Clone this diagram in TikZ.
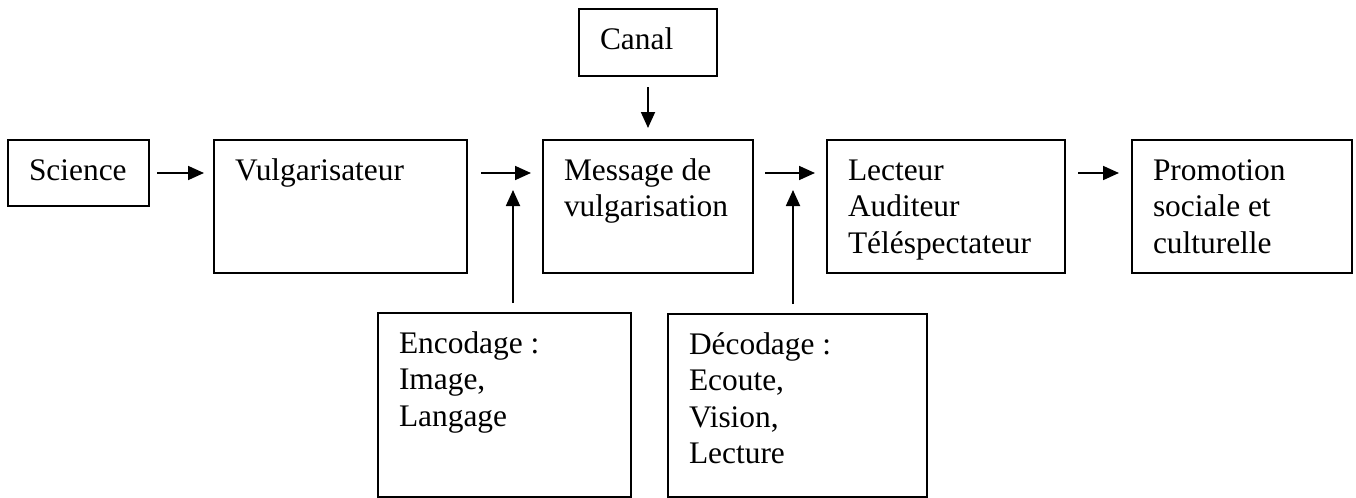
\documentclass[tikz,border=0pt]{standalone}
\usepackage{fontspec}
\setmainfont{Liberation Serif}
\usetikzlibrary{
  arrows.meta,
  positioning,
}
\tikzset{
  >={Triangle[length=8pt,width=7pt]},
  boite/.style={draw,rectangle,line width=0.9pt,outer sep=0pt,inner xsep=10.5pt,inner ysep=0pt,
    align=flush left,anchor=north west,text height=20pt,font=\fontsize{15.7pt}{18.3pt}\selectfont},
  fleche/.style={->,line width=0.9pt},
}

\begin{document}
\begin{tikzpicture}
      \useasboundingbox (0,0) rectangle (678pt,-249pt);

      \node[boite,text width=49.5pt,text depth=13pt]      (science) at (4pt,-70pt)      {Science};
      \node[boite,text width=105.5pt,text depth=46.5pt]   (vulg)    [right=32.5pt of science.north east,anchor=north west] {Vulgarisateur};
      \node[boite,text width=84pt,text depth=46.5pt]      (msg)     [right=38pt of vulg.north east,anchor=north west]      {Message de\\vulgarisation};
      \node[boite,text width=98pt,text depth=46.5pt]      (lecteur) [right=37pt of msg.north east,anchor=north west]       {Lecteur\\Auditeur\\Téléspectateur};
      \node[boite,text width=89pt,text depth=46.5pt]      (promo)   [right=33.5pt of lecteur.north east,anchor=north west] {Promotion\\sociale et\\culturelle};

      \node[boite,text width=48pt,text depth=13.5pt]      (canal)   [above=32pt of msg.north,anchor=south]                 {Canal};
      \node[boite,text width=105.5pt,text depth=72pt,xshift=-44.5pt] (enc) [below=20pt of vulg.south east,anchor=north west] {Encodage :\\Image,\\Langage};
      \node[boite,text width=108.5pt,text depth=71.5pt,xshift=-42.5pt] (dec) [below=20.5pt of msg.south east,anchor=north west] {Décodage :\\Ecoute,\\Vision,\\Lecture};

      \coordinate (encfin) at (256.5pt,-95pt);
      \coordinate (decfin) at (396.5pt,-95pt);

      \draw[fleche,shorten <=4pt,shorten >=5pt]     (science.east) -- (vulg.west |- science.east);
      \draw[fleche,shorten <=7pt,shorten >=6pt]     (vulg.east |- science.east) -- (msg.west |- science.east);
      \draw[fleche,shorten <=6pt,shorten >=6pt]     (msg.east |- science.east) -- (lecteur.west |- science.east);
      \draw[fleche,shorten <=6.5pt,shorten >=6.5pt] (lecteur.east |- science.east) -- (promo.west |- science.east);
      \draw[fleche,shorten <=5.5pt,shorten >=6pt]   (canal.south) -- (msg.north);
      \draw[fleche,shorten <=5pt]                   (enc.north -| encfin) -- (encfin);
      \draw[fleche,shorten <=5pt]                   (dec.north -| decfin) -- (decfin);
\end{tikzpicture}
\end{document}
